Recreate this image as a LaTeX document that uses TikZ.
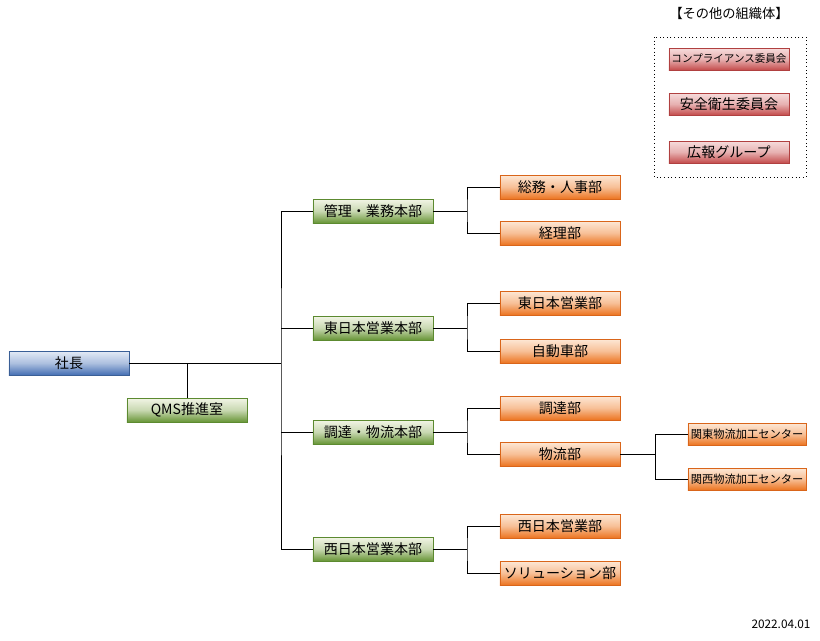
\documentclass[tikz,border=0pt]{standalone}
\usepackage{fontspec}
\setmainfont{Noto Sans CJK JP}
\usepackage{tikz}
\usetikzlibrary{calc}

\definecolor{bluetop}{HTML}{E4EBF6}
\definecolor{bluebot}{HTML}{456FB4}
\definecolor{blueline}{HTML}{3A5F96}
\definecolor{greentop}{HTML}{F2F5E6}
\definecolor{greenbot}{HTML}{679536}
\definecolor{greenline}{HTML}{5C8A30}
\definecolor{orangetop}{HTML}{FDE8D6}
\definecolor{orangebot}{HTML}{EC7420}
\definecolor{orangeline}{HTML}{D9651A}
\definecolor{redtop}{HTML}{F6DCDC}
\definecolor{redbot}{HTML}{C44C4C}
\definecolor{redline}{HTML}{B04040}

\tikzset{
	unit/.style={rectangle, minimum width=3cm, minimum height=0.6cm, inner sep=0pt,
		font=\fontsize{10}{12}\selectfont},
	pres/.style={unit, draw=blueline, top color=bluetop, bottom color=bluebot, middle color=bluetop!65!bluebot},
	hq/.style={unit, draw=greenline, top color=greentop, bottom color=greenbot, middle color=greentop!70!greenbot},
	dept/.style={unit, draw=orangeline, top color=orangetop, bottom color=orangebot, middle color=orangetop!65!orangebot},
	center/.style={dept, minimum width=2.95cm, minimum height=0.55cm, font=\fontsize{8}{9}\selectfont},
	cmte/.style={unit, minimum height=0.55cm, draw=redline, top color=redtop, bottom color=redbot, middle color=redtop!70!redbot},
	link/.style={draw=black, line width=0.7pt}
}

\begin{document}
\begin{tikzpicture}[x=0.025cm, y=-0.025cm]

	\useasboundingbox (0,0) rectangle (820,640);

	% president and staff
	\node[pres] (shacho) at (69,363) {社長};
	\node[hq] (qms) at (187,410) {QMS推進室};

	% headquarters
	\node[hq] (kanri)    at (373,211) {管理・業務本部};
	\node[hq] (higashi)  at (373,328) {東日本営業本部};
	\node[hq] (chotatsu) at (373,432) {調達・物流本部};
	\node[hq] (nishi)    at (373,549) {西日本営業本部};

	% departments
	\node[dept] (somu)   at (560,187) {総務・人事部};
	\node[dept] (keiri)  at (560,233) {経理部};
	\node[dept] (heigyo) at (560,303) {東日本営業部};
	\node[dept] (jidosha) at (560,351) {自動車部};
	\node[dept] (chobu)  at (560,408) {調達部};
	\node[dept] (butsu)  at (560,454) {物流部};
	\node[dept] (weigyo) at (560,526) {西日本営業部};
	\node[dept] (solu)   at (560,573) {ソリューション部};

	% processing centers
	\node[center] (kanto)  at (747,434) {関東物流加工センター};
	\node[center] (kansai) at (747,479) {関西物流加工センター};

	% junctions
	\coordinate (trunk) at (281,363);
	\coordinate (b1) at (467,211);
	\coordinate (b2) at (467,328);
	\coordinate (b3) at (467,432);
	\coordinate (b4) at (467,549);
	\coordinate (b5) at (655,454);

	% connectors
	\draw[link] (shacho.east) -- (trunk);
	\draw[link] (qms.north) -- (qms.north |- shacho.east);
	\draw[link] (kanri.west) -| (trunk) |- (nishi.west);
	\draw[link] (higashi.west) -- (higashi.west -| trunk);
	\draw[link] (chotatsu.west) -- (chotatsu.west -| trunk);

	\draw[link] (kanri.east) -- (b1);
	\draw[link] (somu.west) -| (b1) |- (keiri.west);
	\draw[link] (higashi.east) -- (b2);
	\draw[link] (heigyo.west) -| (b2) |- (jidosha.west);
	\draw[link] (chotatsu.east) -- (b3);
	\draw[link] (chobu.west) -| (b3) |- (butsu.west);
	\draw[link] (nishi.east) -- (b4);
	\draw[link] (weigyo.west) -| (b4) |- (solu.west);
	\draw[link] (butsu.east) -- (b5);
	\draw[link] (kanto.west) -| (b5) |- (kansai.west);

	% other organizations
	\node[font=\fontsize{9.4}{11}\selectfont] (other) at (729,13) {【その他の組織体】};
	\draw[dotted, line width=0.6pt] (654,37) rectangle (806,177);
	\node[cmte, font=\fontsize{7.5}{9}\selectfont] (comp) at (729,59) {コンプライアンス委員会};
	\node[cmte] (anzen) at (729,104) {安全衛生委員会};
	\node[cmte] (koho)  at (729,152) {広報グループ};

	% date
	\node[font=\fontsize{8.4}{10}\selectfont] (date) at (781,624) {2022.04.01};

\end{tikzpicture}
\end{document}
